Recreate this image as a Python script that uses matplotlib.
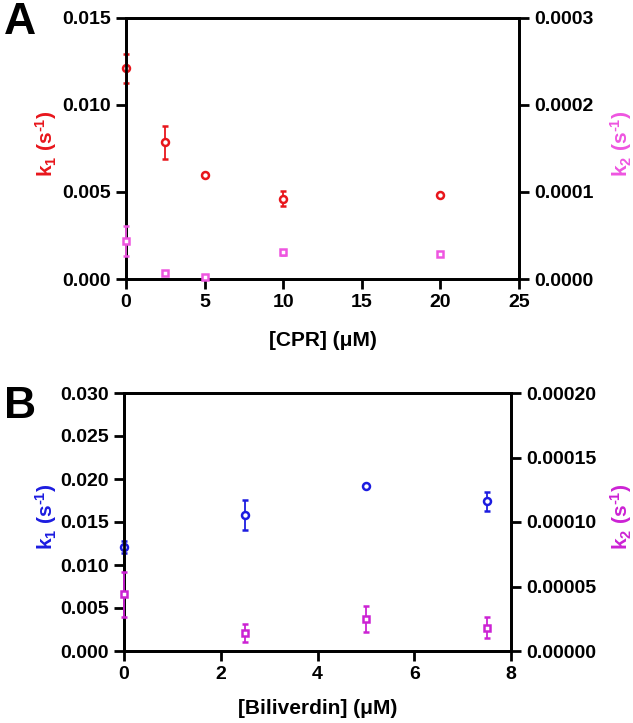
import matplotlib
matplotlib.use("Agg")
import matplotlib.pyplot as plt

plt.rcParams['font.family'] = ['Liberation Sans', 'DejaVu Sans']
plt.rcParams['font.weight'] = 'bold'
plt.rcParams['mathtext.fontset'] = 'custom'
plt.rcParams['mathtext.rm'] = 'Liberation Sans:bold'
plt.rcParams['mathtext.it'] = 'Liberation Sans:bold'
plt.rcParams['mathtext.bf'] = 'Liberation Sans:bold'

# Panel A data
cpr = [0, 2.5, 5, 10, 20]
a_k1 = [0.0121, 0.00786, 0.00598, 0.00462, 0.00481]
a_k1_err = [0.00083, 0.00096, 0.0001, 0.00043, 0.0001]
a_k2 = [0.0000433, 0.0000066, 0.0000023, 0.0000307, 0.0000287]
a_k2_err = [0.0000172, 0.000001, 0.000001, 0.000003, 0.000001]

# Panel B data
bv = [0, 2.5, 5, 7.5]
b_k1 = [0.01213, 0.01581, 0.01919, 0.01741]
b_k1_err = [0.0007, 0.0017, 0.0001, 0.0011]
b_k2 = [0.0000440, 0.0000142, 0.0000248, 0.0000181]
b_k2_err = [0.0000175, 0.000007, 0.00001, 0.0000083]

RED = '#e8161c'
PINK = '#ee55e0'
BLUE = '#1c1ce0'
PURPLE = '#cc22d4'

W, H = 633, 723
fig = plt.figure(figsize=(W/100, H/100), dpi=100)

def mkax(l, t, r, b):
    return fig.add_axes([l/W, 1-b/H, (r-l)/W, (b-t)/H])

def style(ax):
    for s in ax.spines.values():
        s.set_linewidth(2)
    ax.tick_params(width=2, length=7, labelsize=14, direction='out', pad=4)
    for lab in ax.get_xticklabels() + ax.get_yticklabels():
        lab.set_fontweight('bold')

def panel(box, x, k1, k1e, k2, k2e, c1, c2, xlim, xticks, ylim1, yticks1, fmt1,
          ylim2, yticks2, fmt2, xlabel, xlabel_y, letter, letter_xy):
    l, t, r, b = box
    ax = mkax(l, t, r, b)
    ax2 = ax.twinx()
    ax.errorbar(x, k1, yerr=k1e, fmt='o', mfc='white', mec=c1, color=c1,
                ms=5, mew=1.8, elinewidth=1.3, capsize=2.5, capthick=1.3,
                clip_on=False, zorder=5)
    ax2.errorbar(x, k2, yerr=k2e, fmt='s', mfc='white', mec=c2, color=c2,
                 ms=5, mew=1.8, elinewidth=1.3, capsize=2.5, capthick=1.3,
                 clip_on=False, zorder=4)
    ax.set_xlim(*xlim)
    ax.set_xticks(xticks)
    ax.set_ylim(*ylim1)
    ax.set_yticks(yticks1)
    ax.set_yticklabels([fmt1.format(v) for v in yticks1])
    ax2.set_ylim(*ylim2)
    ax2.set_yticks(yticks2)
    ax2.set_yticklabels([fmt2.format(v) for v in yticks2])
    style(ax)
    style(ax2)
    w = r - l
    h = b - t
    ax.set_xlabel(xlabel, fontsize=15, fontweight='bold')
    ax.xaxis.set_label_coords(0.5, (b - xlabel_y) / h)
    ax.xaxis.label.set_va('center')
    ax.set_ylabel(r'k$_1$ (s$^{\text{-}1}$)', color=c1, fontsize=15, fontweight='bold')
    ax.yaxis.set_label_coords((46 - l) / w, 0.52)
    ax.yaxis.label.set_va('center')
    ax2.set_ylabel(r'k$_2$ (s$^{\text{-}1}$)', color=c2, fontsize=15, fontweight='bold')
    ax2.yaxis.set_label_coords((621 - l) / w, 0.52)
    ax2.yaxis.label.set_va('center')
    fig.text(letter_xy[0]/W, 1-letter_xy[1]/H, letter, fontsize=32,
             fontweight='bold', ha='center', va='center')

panel((126, 18, 519, 279), cpr, a_k1, a_k1_err, a_k2, a_k2_err, RED, PINK,
      (0, 25), [0, 5, 10, 15, 20, 25],
      (0, 0.015), [0, 0.005, 0.010, 0.015], '{:.3f}',
      (0, 0.0003), [0, 0.0001, 0.0002, 0.0003], '{:.4f}',
      '[CPR] (\u03bcM)', 341, 'A', (20, 22))

panel((124, 393, 511, 651), bv, b_k1, b_k1_err, b_k2, b_k2_err, BLUE, PURPLE,
      (0, 8), [0, 2, 4, 6, 8],
      (0, 0.030), [0, 0.005, 0.010, 0.015, 0.020, 0.025, 0.030], '{:.3f}',
      (0, 0.0002), [0, 0.00005, 0.0001, 0.00015, 0.0002], '{:.5f}',
      '[Biliverdin] (\u03bcM)', 708, 'B', (20, 407))

fig.savefig('out.png', dpi=100)
